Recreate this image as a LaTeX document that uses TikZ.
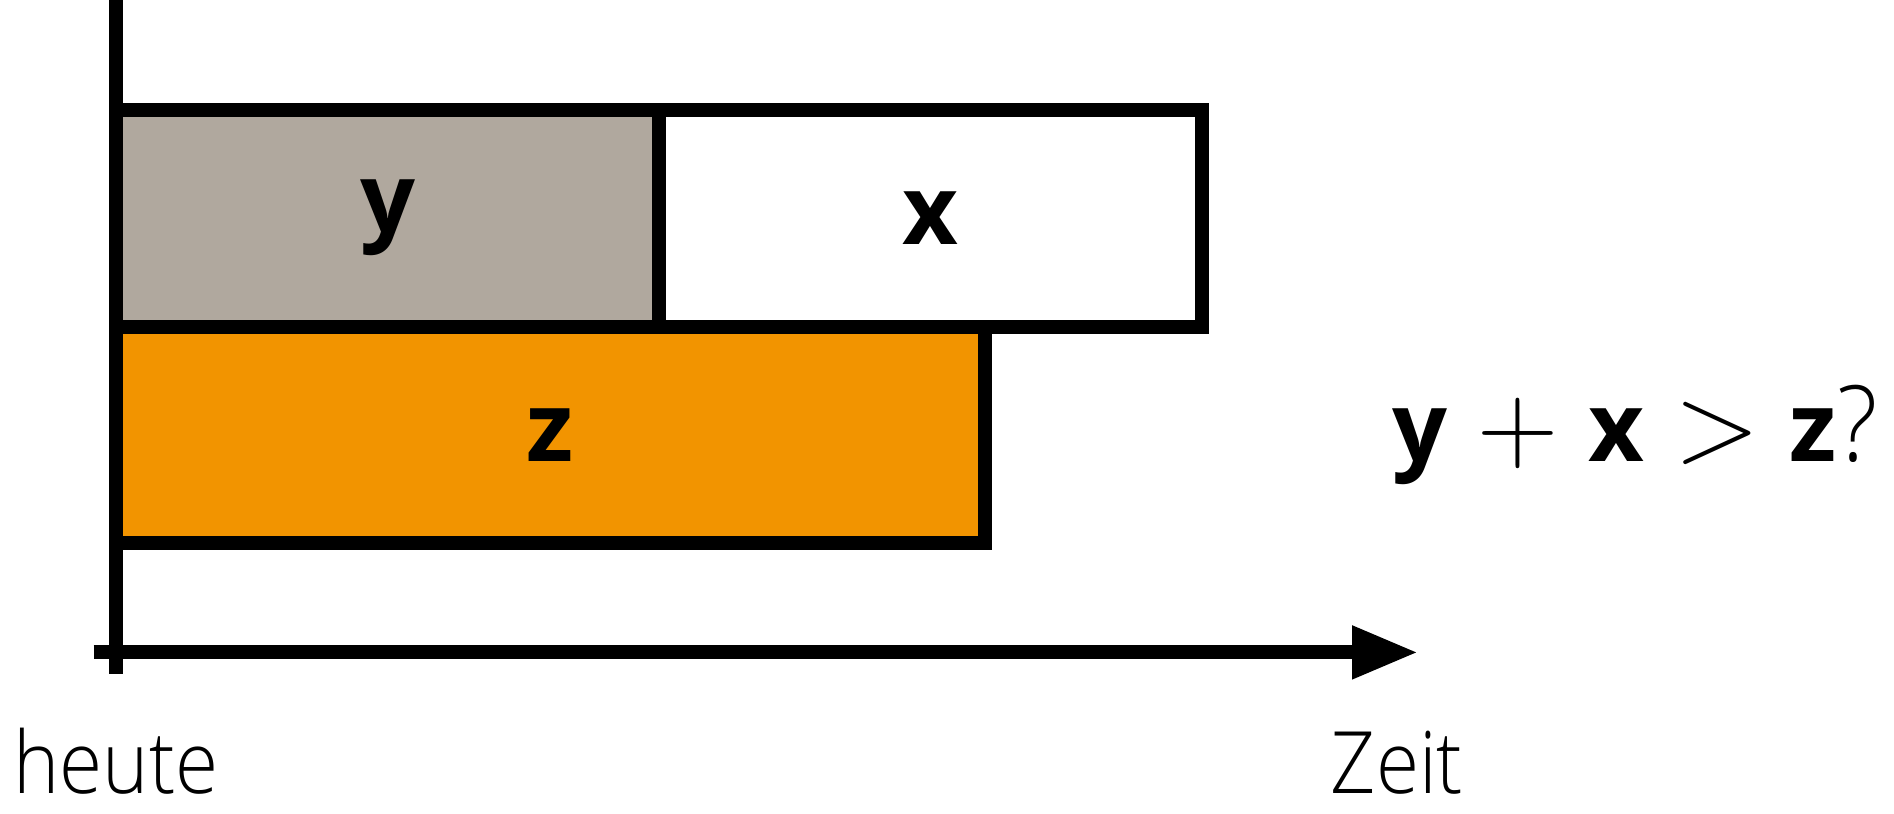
\documentclass[tikz,border=0pt]{standalone}
\usepackage{fix-cm}
\usepackage[no-math]{fontspec}
\setmainfont{Open Sans}
\newfontfamily\lightfont[FakeStretch=0.91]{Open Sans Light}
\usetikzlibrary{arrows.meta,positioning}

\definecolor{stone}{RGB}{176,168,158}
\definecolor{amber}{RGB}{242,148,0}

\newcommand{\bigop}[1]{\hspace{0.3cm}{\fontsize{32}{38}\selectfont$#1$}\hspace{0.3cm}}

\begin{document}
\begin{tikzpicture}[node distance=0cm]
    % Styles
    \tikzstyle{bar} = [rectangle, draw, line width=0.14cm, outer sep=0pt, inner sep=0pt, minimum height=2.169cm, font=\fontsize{27.5}{33}\selectfont\bfseries]
    \tikzstyle{axis} = [line width=0.14cm]
    \tikzstyle{arrow} = [line width=0.14cm, -{Stealth[length=0.66cm, width=0.5cm, inset=0pt]}]
    \tikzstyle{caption} = [font=\fontsize{24.5}{30}\selectfont\lightfont, anchor=base, inner sep=0pt]

    \useasboundingbox (0,0) rectangle (18.94,8.13);

    % Axes
    \coordinate (top) at (1.16,8.13);
    \coordinate (bottom) at (1.16,1.39);
    \coordinate (start) at (0.936,1.606);
    \coordinate (end) at (14.18,1.606);
    \draw [axis] (top) -- (bottom);
    \draw [arrow] (start) -- (end);

    % Nodes
    \node [bar, fill=stone, minimum width=5.43cm, anchor=north west] (ybar) at (1.16,7.034) {y};
    \node [bar, minimum width=5.43cm, right=of ybar] (xbar) {x};
    \node [bar, fill=amber, minimum width=8.69cm, below right=0cm and 0cm of ybar.south west] (zbar) {z};

    \node [caption] (heute) at (1.16,0.20) {heute};
    \node [caption] (zeit) at (13.97,0.20) {Zeit};
    \node [caption, font=\fontsize{27.5}{33}\selectfont] (cond) at (16.35,3.513)
        {\textbf{y}\bigop{+}\textbf{x}\bigop{>}\textbf{z}{\fontsize{30}{36}\selectfont\lightfont ?}};
\end{tikzpicture}
\end{document}
